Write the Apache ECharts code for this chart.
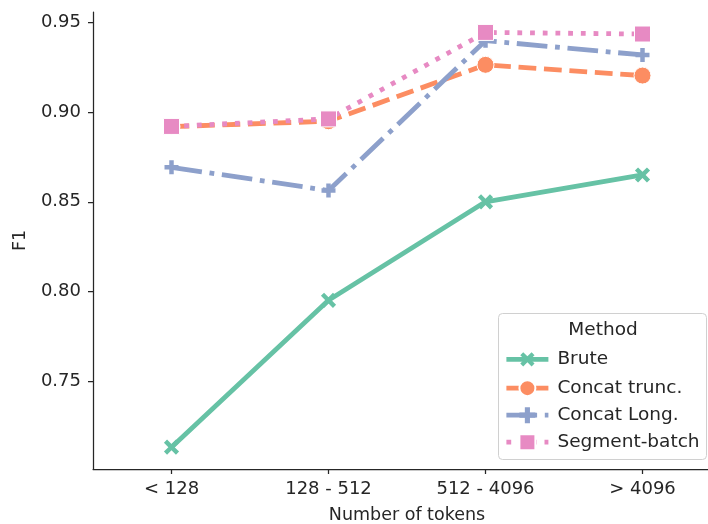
<!DOCTYPE html>
<html>
<head>
<meta charset="utf-8">
<script src="https://cdn.jsdelivr.net/npm/echarts@6/dist/echarts.min.js"></script>
<style>
  html, body { margin: 0; padding: 0; background: #fff; }
  #chart { width: 708px; height: 524px; }
</style>
</head>
<body>
<div id="chart"></div>
<script>
// Token-length buckets and F1 per method
const categories = ['< 128', '128 - 512', '512 - 4096', '> 4096'];
const methods = ['Brute', 'Concat trunc.', 'Concat Long.', 'Segment-batch'];
const brute = [0.713, 0.795, 0.850, 0.865];
const concatTrunc = [0.892, 0.895, 0.9265, 0.9205];
const concatLong = [0.8693, 0.8563, 0.940, 0.932];
const segmentBatch = [0.8921, 0.8963, 0.9446, 0.9437];
const yTicks = [0.75, 0.80, 0.85, 0.90, 0.95];

const FONT = 'DejaVu Sans';
const INK = '#262626';
const LW = 4.8;

// filled cross shapes; the thin one rotated 45 degrees becomes an "x"
const PLUS = 'path://M3.4,0H6.6V3.4H10V6.6H6.6V10H3.4V6.6H0V3.4H3.4Z';
const THIN_PLUS = 'path://M3.7,0H6.3V3.7H10V6.3H6.3V10H3.7V6.3H0V3.7H3.7Z';

function lineSeries(name, data, color, dash, symbol, size, rotate, edge) {
  return {
    name: name,
    type: 'line',
    data: data,
    symbol: symbol,
    symbolSize: size,
    symbolRotate: rotate,
    showSymbol: true,
    animation: false,
    lineStyle: { color: color, width: LW, type: dash, cap: 'butt' },
    itemStyle: edge
      ? { color: color, borderColor: '#fff', borderWidth: 1 }
      : { color: color, borderWidth: 0 },
    emphasis: { disabled: true }
  };
}

const chart = echarts.init(document.getElementById('chart'), null, { renderer: 'canvas' });

chart.setOption({
  backgroundColor: '#fff',
  animation: false,
  textStyle: { fontFamily: FONT },
  grid: {
    left: 93, top: 12, bottom: 55, right: -13,
    containLabel: false,
    outerBoundsMode: 'none'
  },
  xAxis: {
    type: 'category',
    data: categories,
    boundaryGap: true,
    name: 'Number of tokens',
    nameLocation: 'middle',
    nameGap: 37,
    nameTextStyle: { fontFamily: FONT, fontSize: 17.5, color: INK },
    axisLine: { show: true, lineStyle: { color: INK, width: 1.25 } },
    axisTick: { show: true, alignWithLabel: true, length: 5, lineStyle: { color: INK, width: 1.25 } },
    axisLabel: { fontFamily: FONT, fontSize: 18, color: INK, margin: 11 },
    splitLine: { show: false }
  },
  yAxis: {
    type: 'value',
    min: 0.7008,
    max: 0.956,
    name: 'F1',
    nameLocation: 'middle',
    nameGap: 64,
    nameRotate: 90,
    nameTextStyle: { fontFamily: FONT, fontSize: 17.5, color: INK },
    axisLine: { show: true, lineStyle: { color: INK, width: 1.25 } },
    axisTick: { show: true, length: 5, customValues: yTicks, lineStyle: { color: INK, width: 1.25 } },
    axisLabel: {
      fontFamily: FONT, fontSize: 18, color: INK, margin: 12,
      customValues: yTicks,
      formatter: v => v.toFixed(2)
    },
    splitLine: { show: false }
  },
  legend: {
    orient: 'vertical',
    left: 504,
    top: 348,
    padding: 0,
    itemWidth: 42,
    itemHeight: 20,
    itemGap: 8,
    data: methods,
    selectedMode: false,
    lineStyle: { width: LW },
    textStyle: { fontFamily: FONT, fontSize: 18.5, color: INK, padding: [0, 0, 0, 4] }
  },
  graphic: [
    {
      type: 'rect',
      z: 0,
      shape: { x: 498.5, y: 313.5, width: 208, height: 146, r: 4 },
      style: { fill: 'rgba(255,255,255,0.8)', stroke: '#d0d0d0', lineWidth: 1 }
    },
    {
      type: 'text',
      z: 1,
      x: 603, y: 330,
      style: {
        text: 'Method', fontFamily: FONT, fontSize: 18.5, fill: INK,
        align: 'center', verticalAlign: 'middle'
      }
    }
  ],
  series: [
    lineSeries(methods[0], brute, '#66c2a5', 'solid', THIN_PLUS, 17, 45, false),
    lineSeries(methods[1], concatTrunc, '#fc8d62', [17.8, 7.7], 'circle', 17, 0, true),
    lineSeries(methods[2], concatLong, '#8da0cb', [30.7, 7.7, 4.8, 7.7], PLUS, 14, 0, false),
    lineSeries(methods[3], segmentBatch, '#e78ac3', [4.8, 7.9], 'rect', 16, 0, true)
  ]
});
</script>
</body>
</html>
